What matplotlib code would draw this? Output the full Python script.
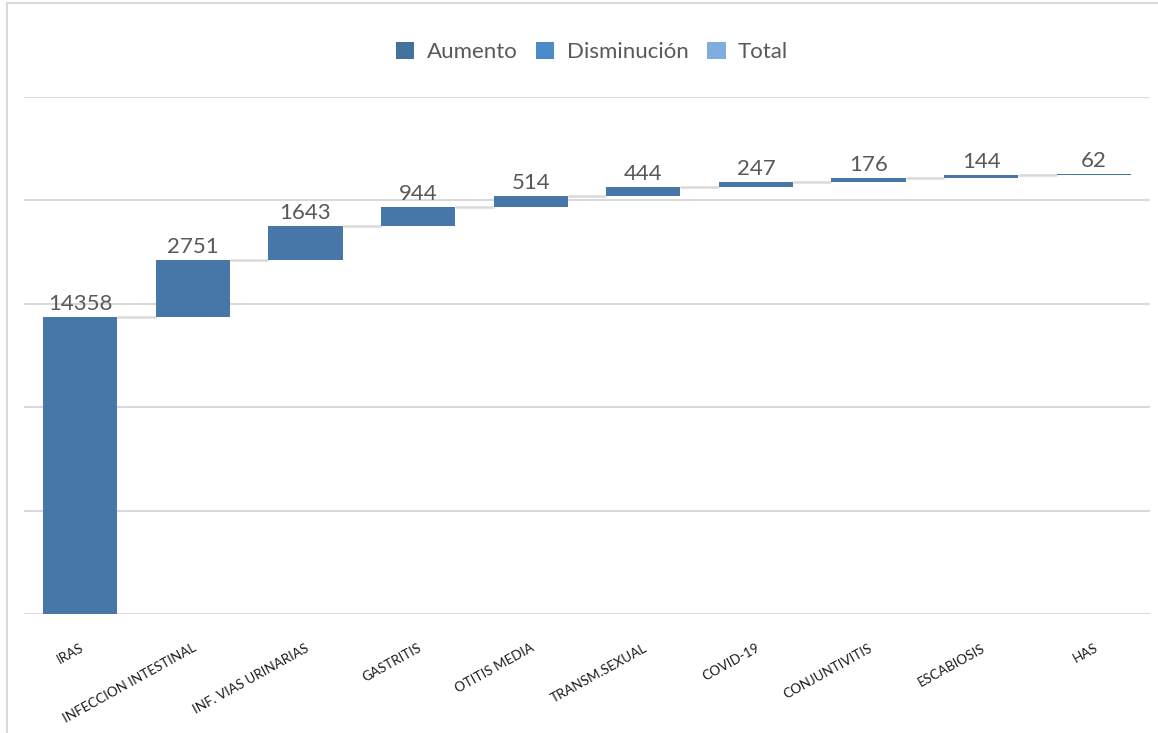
import matplotlib
matplotlib.use("Agg")
import matplotlib.pyplot as plt
from matplotlib.patches import Patch, Rectangle

categories = ["IRAS", "INFECCION INTESTINAL", "INF. VIAS URINARIAS", "GASTRITIS",
              "OTITIS MEDIA", "TRANSM.SEXUAL", "COVID-19", "CONJUNTIVITIS",
              "ESCABIOSIS", "HAS"]
values = [14358, 2751, 1643, 944, 514, 444, 247, 176, 144, 62]
legend_labels = ["Aumento", "Disminución", "Total"]
legend_colors = ["#44729F", "#4B8BC9", "#7FAEDE"]
bar_color = "#4677A8"

plt.rcParams['font.family'] = ['Lato', 'DejaVu Sans']

W, H = 1158, 733
fig = plt.figure(figsize=(W / 100, H / 100), dpi=100)
ax = fig.add_axes([24 / W, (H - 614) / H, (1150 - 24) / W, (614 - 97) / H])

# chart border
fig.add_artist(Rectangle((7 / W, -0.1), 1.2, 1 - 3 / H + 0.1, transform=fig.transFigure,
                         fill=False, edgecolor="#D9D9D9", linewidth=1.5))

x = list(range(len(categories)))
bottoms = []
cum = 0
for v in values:
    bottoms.append(cum)
    cum += v

width = 0.66
ax.bar(x, values, bottom=bottoms, width=width, color=bar_color, zorder=3)

# connectors
for i in range(len(values) - 1):
    level = bottoms[i] + values[i]
    ax.plot([i + width / 2, i + 1 - width / 2], [level, level], color="#D9D9D9",
            linewidth=1.8, zorder=2, solid_capstyle="butt")

for i, v in enumerate(values):
    ax.annotate(str(v), (i, bottoms[i] + v), xytext=(0, 2), textcoords="offset points",
                ha="center", va="bottom", fontsize=16, color="#595959")

ax.set_xlim(-0.5, len(categories) - 0.5)
ax.set_ylim(0, 25000)
ax.set_yticks(range(0, 25001, 5000))
ax.yaxis.grid(True, color="#D9D9D9", linewidth=1.5, zorder=0)
ax.tick_params(axis="y", length=0, labelleft=False)
ax.tick_params(axis="x", length=0, pad=20)
ax.set_xticks(x)
ax.set_xticklabels(categories, rotation=29, ha="right", va="top",
                   rotation_mode="anchor", fontsize=9.6, color="#1a1a1a")
for s in ax.spines.values():
    s.set_visible(False)

handles = [Patch(facecolor=c, edgecolor="none") for c in legend_colors]
fig.legend(handles, legend_labels, loc="center", bbox_to_anchor=(592 / W, 1 - 52 / H),
           ncol=3, frameon=False, fontsize=16, handlelength=0.82, handleheight=0.82,
           handletextpad=0.55, columnspacing=0.85, labelcolor="#595959")

fig.savefig("out.png", dpi=100, facecolor="white")
